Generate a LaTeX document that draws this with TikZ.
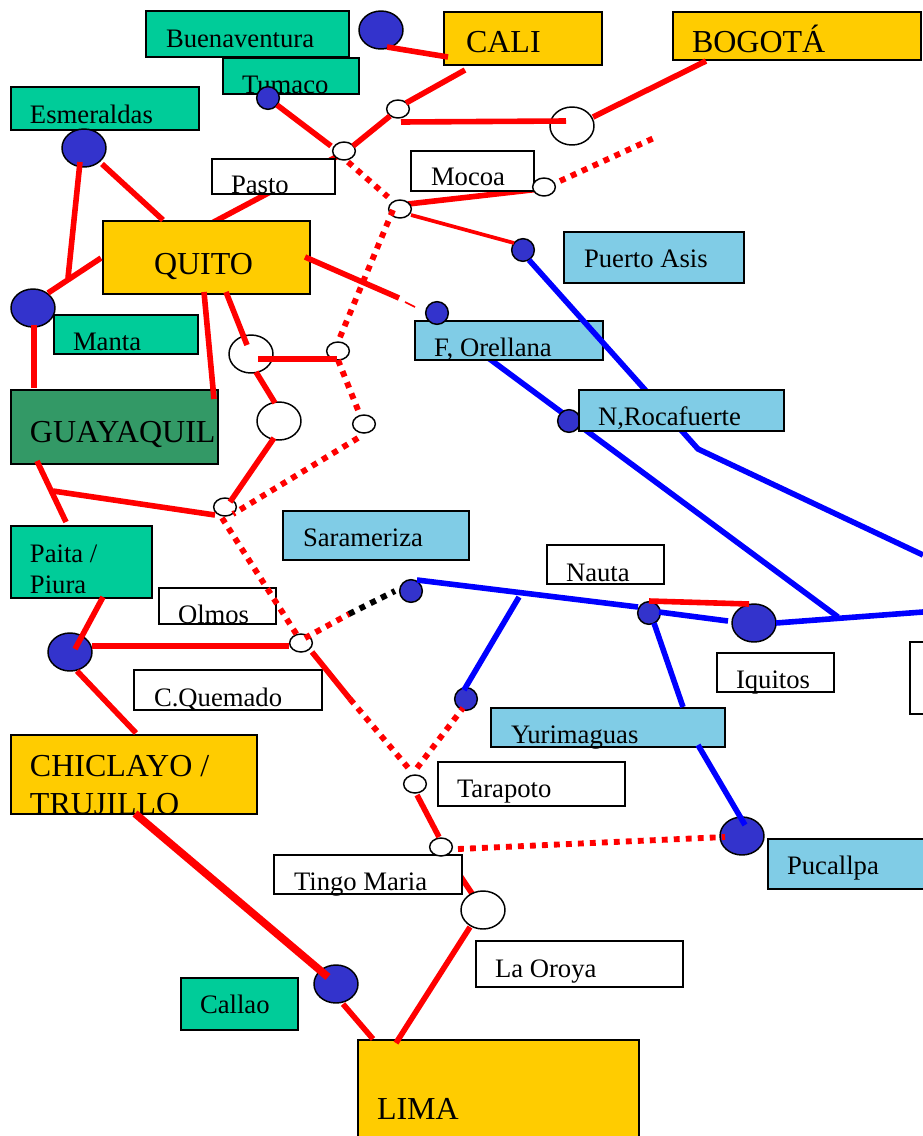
\documentclass[tikz,border=0pt]{standalone}
\usepackage{fontspec}
\setmainfont{Liberation Serif}
\usetikzlibrary{shapes.geometric,backgrounds}
\definecolor{cyel}{HTML}{FFCC00}
\definecolor{cgrn}{HTML}{00CC99}
\definecolor{cdrk}{HTML}{339966}
\definecolor{csky}{HTML}{80CCE6}
\definecolor{cdot}{HTML}{3333CC}
\tikzset{
  bx/.style n args={2}{draw=black,line width=1.1pt,inner sep=0pt,outer sep=0pt,anchor=north west,minimum width=#1*0.75pt,minimum height=#2*0.75pt},
  lbl/.style={inner sep=0pt,outer sep=0pt,anchor=base west,font=\fontsize{20}{23}\selectfont,align=left},
  lbig/.style={inner sep=0pt,outer sep=0pt,anchor=base west,font=\fontsize{24}{27.8}\selectfont,align=left},
  spot/.style={ellipse,draw=black,line width=1.1pt,inner sep=0pt,outer sep=0pt},
  big/.style={spot,minimum width=33pt,minimum height=28.5pt},
  tiny/.style={spot,minimum width=17pt,minimum height=13.5pt},
  sm/.style={spot,minimum width=17pt,minimum height=17pt},
  rd/.style={draw=red,line width=4.2pt},
  rdthin/.style={draw=red,line width=2.8pt},
  rdhair/.style={draw=red,line width=1.3pt},
  rdfat/.style={draw=red,line width=5.8pt},
  bl/.style={draw=blue,line width=4.2pt},
  rdot/.style={draw=red,line width=4.4pt,dash pattern=on 4.4pt off 4.6pt},
  kdot/.style={draw=black,line width=4.4pt,dash pattern=on 4.4pt off 4.6pt},
}
\begin{document}
\begin{tikzpicture}[x=0.75pt,y=-0.75pt]
\useasboundingbox (0,0) rectangle (922,1136);
% free points
\coordinate (j1) at (838,617);
\coordinate (j2) at (53,491);
\coordinate (j3) at (68,278);
\coordinate (j4) at (519,597);
\coordinate (j5) at (350,699);
\coordinate (jb) at (349,614);
\coordinate (jp) at (698,449);
\coordinate (jr1) at (923,612);
\coordinate (jr2) at (923,555);
\coordinate (d1) at (654,138);
% boxes
\node[bx={203}{46},fill=cgrn] (buen) at (146,11) {};
\node[bx={136}{36},fill=cgrn] (tum) at (223,58) {};
\node[bx={188}{43},fill=cgrn] (esm) at (11,87) {};
\node[bx={158}{53},fill=cyel] (cali) at (444,12) {};
\node[bx={248}{48},fill=cyel] (bog) at (673,12) {};
\node[bx={207}{73},fill=cyel] (quito) at (103,221) {};
\node[bx={123}{35},fill=white] (pasto) at (212,159) {};
\node[bx={123}{40},fill=white] (moc) at (411,151) {};
\node[bx={180}{51},fill=csky] (puerto) at (564,232) {};
\node[bx={144}{39},fill=cgrn] (manta) at (54,315) {};
\node[bx={188}{39},fill=csky] (orel) at (415,321) {};
\node[bx={207}{74},fill=cdrk] (guay) at (11,390) {};
\node[bx={186}{49},fill=csky] (sara) at (283,511) {};
\node[bx={117}{39},fill=white] (nauta) at (547,545) {};
\node[bx={141}{72},fill=cgrn] (paita) at (11,526) {};
\node[bx={117}{36},fill=white] (olmos) at (159,588) {};
\node[bx={188}{40},fill=white] (cquem) at (134,670) {};
\node[bx={117}{39},fill=white] (iquitos) at (717,653) {};
\node[bx={80}{72},fill=white] (blank) at (910,642) {};
\node[bx={234}{39},fill=csky] (yuri) at (491,708) {};
\node[bx={187}{44},fill=white] (tara) at (438,762) {};
\node[bx={246}{79},fill=cyel] (chic) at (11,735) {};
\node[bx={184}{50},fill=csky] (puc) at (768,839) {};
\node[bx={188}{39},fill=white] (tingo) at (274,855) {};
\node[bx={207}{46},fill=white] (oroya) at (476,941) {};
\node[bx={117}{52},fill=cgrn] (callao) at (181,978) {};
\node[bx={281}{120},fill=cyel] (lima) at (358,1040) {};
% labels
\node[lbl] (tbuen) at (166,47) {Buenaventura};
\node[lbl] (ttum) at (242,93) {Tumaco};
\node[lbl] (tesm) at (30,123) {Esmeraldas};
\node[lbl] (tpasto) at (231,193) {Pasto};
\node[lbl] (tmoc) at (431,185) {Mocoa};
\node[lbig] (tcali) at (466,52) {CALI};
\node[lbig] (tbog) at (692,52) {BOGOTÁ};
\node[lbig] (tquito) at (154,274) {QUITO};
\node[lbl] (tpuerto) at (584,267) {Puerto Asis};
\node[lbl] (tmanta) at (73,350) {Manta};
\node[lbl] (torel) at (434,356) {F, Orellana};
\node[lbig] (tguay) at (30,442) {GUAYAQUIL};
\node[lbl] (tsara) at (303,546) {Sarameriza};
\node[lbl] (tnauta) at (566,581) {Nauta};
\node[lbl] (tpaita) at (30,593) {Paita /\\Piura};
\node[lbl] (tolmos) at (178,623) {Olmos};
\node[lbl] (tcquem) at (154,706) {C.Quemado};
\node[lbl] (tiquitos) at (736,688) {Iquitos};
\node[lbl] (tyuri) at (511,743) {Yurimaguas};
\node[lbl] (ttara) at (457,797) {Tarapoto};
\node[lbig] (tchic) at (30,814) {CHICLAYO /\\TRUJILLO};
\node[lbl] (tpuc) at (787,874) {Pucallpa};
\node[lbl] (ttingo) at (294,890) {Tingo Maria};
\node[lbl] (toroya) at (495,977) {La Oroya};
\node[lbl] (tcallao) at (200,1013) {Callao};
\node[lbig] (tlima) at (377,1119) {LIMA};
% spots
\node[big,fill=cdot] (cbuen) at (381,30) {};
\node[sm,fill=cdot] (ctum) at (268,98) {};
\node[big,fill=cdot] (cesm) at (84,148) {};
\node[big,fill=cdot] (cman) at (33,308) {};
\node[sm,fill=cdot] (core) at (437,313) {};
\node[sm,fill=cdot] (cpue) at (523,250) {};
\node[sm,fill=cdot] (csar) at (411,591) {};
\node[sm,fill=cdot] (cnau) at (649,613) {};
\node[big,fill=cdot] (ciqu) at (754,623) {};
\node[sm,fill=cdot] (cyur) at (466,699) {};
\node[big,fill=cdot] (cpuc) at (742,836) {};
\node[big,fill=cdot] (cchi) at (70,652) {};
\node[big,fill=cdot] (ccal) at (336,984) {};
\node[tiny,fill=white] (w1) at (398,109) {};
\node[tiny,fill=white] (w2) at (344,151) {};
\node[tiny,fill=white] (w3) at (400,209) {};
\node[tiny,fill=white] (w4) at (544,187) {};
\node[big,fill=white] (w5) at (572,126) {};
\node[big,fill=white] (w6) at (251,354) {};
\node[tiny,fill=white] (w7) at (338,351) {};
\node[big,fill=white] (w8) at (279,421) {};
\node[tiny,fill=white] (w9) at (364,424) {};
\node[tiny,fill=white] (w10) at (225,507) {};
\node[tiny,fill=white] (w11) at (301,643) {};
\node[tiny,fill=white] (w12) at (415,784) {};
\node[tiny,fill=white] (w13) at (441,847) {};
\node[big,fill=white] (w14) at (483,910) {};
% lines that run beneath the boxes
\begin{pgfonlayer}{background}
\draw[rd] ([shift={(-6,5)}]w2.center) -- ([shift={(3.5,-33.5)}]quito.center);
\draw[rd] ([shift={(8,-5)}]w3.center) -- ([shift={(-4,2)}]w4.center);
\draw[rd] (w13.center) -- (w14.center);
\draw[bl] ([shift={(0,7)}]core.center) -- (j1);
\end{pgfonlayer}
% solid red
\draw[rd] ([shift={(6,17)}]cbuen.center) -- ([shift={(-75,18.5)}]cali.center);
\draw[rd] ([shift={(-58,31.5)}]cali.center) -- ([shift={(8,-6)}]w1.center);
\draw[rd] ([shift={(-8,7)}]w1.center) -- ([shift={(9,-5)}]w2.center);
\draw[rd] ([shift={(9,7)}]ctum.center) -- ([shift={(-13,-5)}]w2.center);
\draw[rd] ([shift={(3,13)}]w1.center) -- ([shift={(-6,-5)}]w5.center);
\draw[rd] ([shift={(21,-9)}]w5.center) -- ([shift={(-91,25)}]bog.center);
\draw[rdthin] ([shift={(11,6)}]w3.center) -- ([shift={(-9,-7)}]cpue.center);
\draw[rd] ([shift={(18,16)}]cesm.center) -- ([shift={(-43.5,-37.5)}]quito.center);
\draw[rd] ([shift={(-4,14)}]cesm.center) -- (j3);
\draw[rd] ([shift={(15,-15)}]cman.center) -- ([shift={(-105.5,0.5)}]quito.center);
\draw[rd] ([shift={(1,17)}]cman.center) -- ([shift={(-80.5,-39)}]guay.center);
\draw[rd] ([shift={(98.5,-0.5)}]quito.center) -- ([shift={(-38,-15)}]core.center);
\draw[rdhair] ([shift={(-32,-11)}]core.center) -- ([shift={(-22,-6)}]core.center);
\draw[rd] ([shift={(-2.5,34.5)}]quito.center) -- ([shift={(99.5,-28)}]guay.center);
\draw[rd] ([shift={(19.5,34.5)}]quito.center) -- ([shift={(-4,-9)}]w6.center);
\draw[rd] ([shift={(5,18)}]w6.center) -- ([shift={(-4,-18)}]w8.center);
\draw[rd] ([shift={(7,5)}]w6.center) -- ([shift={(-1,8)}]w7.center);
\draw[rd] ([shift={(-5,17)}]w8.center) -- ([shift={(5,-5)}]w10.center);
\draw[rd] ([shift={(-77.5,34)}]guay.center) -- ([shift={(-15.5,-40)}]paita.center);
\draw[rd] (j2) -- ([shift={(-10,8)}]w10.center);
\draw[rd] ([shift={(21.5,35)}]paita.center) -- ([shift={(5,-3)}]cchi.center);
\draw[rd] ([shift={(22,-6)}]cchi.center) -- ([shift={(-12,3)}]w11.center);
\draw[rd] ([shift={(7,19)}]cchi.center) -- ([shift={(2,-41.5)}]chic.center);
\draw[rd] ([shift={(11,9)}]w11.center) -- (j5);
\draw[rd] ([shift={(2,11)}]w12.center) -- ([shift={(-2,-10)}]w13.center);
\draw[rdfat] ([shift={(1,39)}]chic.center) -- ([shift={(-8,-7)}]ccal.center);
\draw[rd] ([shift={(7,20)}]ccal.center) -- ([shift={(-125.5,-61)}]lima.center);
\draw[rd] ([shift={(-13,17)}]w14.center) -- ([shift={(-102.5,-57)}]lima.center);
\draw[rd] ([shift={(0,-12)}]cnau.center) -- ([shift={(-5,-19)}]ciqu.center);
% dotted
\draw[rdot] ([shift={(4,11)}]w2.center) -- ([shift={(-12,-12)}]w3.center);
\draw[rdot] ([shift={(-7,1)}]w3.center) -- ([shift={(0,-9)}]w7.center);
\draw[rdot] ([shift={(0,9)}]w7.center) -- ([shift={(-4,-9)}]w9.center);
\draw[rdot] ([shift={(-6,14)}]w9.center) -- ([shift={(8,7)}]w10.center);
\draw[rdot] ([shift={(-3,11)}]w10.center) -- ([shift={(-4,-8)}]w11.center);
\draw[rdot] ([shift={(4,-5)}]w11.center) -- (jb);
\draw[rdot] (j5) -- ([shift={(-5,-14)}]w12.center);
\draw[rdot] ([shift={(2,-16)}]w12.center) -- ([shift={(-3,9)}]cyur.center);
\draw[rdot] ([shift={(17,2)}]w13.center) -- ([shift={(-17,1)}]cpuc.center);
\draw[rdot] ([shift={(16,-6)}]w4.center) -- (d1);
\draw[kdot] (jb) -- ([shift={(-16,0)}]csar.center);
% blue
\draw[bl] ([shift={(6,-11)}]csar.center) -- ([shift={(-11,-6)}]cnau.center);
\draw[bl] (j4) -- ([shift={(-2,-9)}]cyur.center);
\draw[bl] ([shift={(10,-1)}]cnau.center) -- ([shift={(-26,-2)}]ciqu.center);
\draw[bl] ([shift={(22,0)}]ciqu.center) -- (jr1);
\draw[bl] ([shift={(5,10)}]cnau.center) -- ([shift={(75,-20.5)}]yuri.center);
\draw[bl] ([shift={(90,17.5)}]yuri.center) -- ([shift={(3,-11)}]cpuc.center);
\draw[bl] ([shift={(6,10)}]cpue.center) -- (jp) -- (jr2);
% Rocafuerte sits on top of the blue lines
\node[sm,fill=cdot] (croc) at (569,421) {};
\node[bx={205}{41},fill=csky] (roca) at (579,390) {};
\node[lbl] (troca) at (598,425) {N,Rocafuerte};
\end{tikzpicture}
\end{document}
